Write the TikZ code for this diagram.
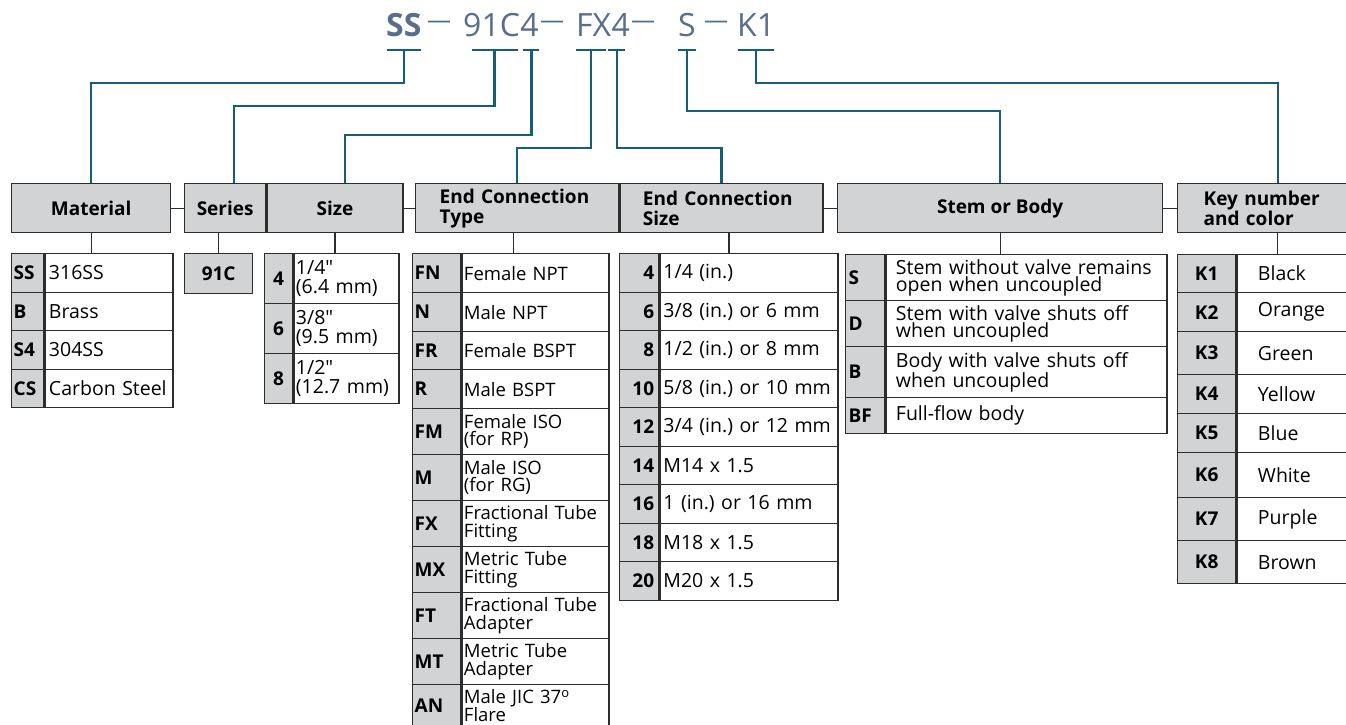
\documentclass[tikz,border=0pt]{standalone}
\usepackage{fontspec}
\setmainfont{Open Sans}[Ligatures=TeXOff]
\usetikzlibrary{positioning}
\definecolor{boxgray}{RGB}{209,211,212}
\definecolor{rulecol}{RGB}{45,45,45}
\definecolor{leadcol}{RGB}{22,94,120}
\definecolor{titlecol}{RGB}{88,110,140}
\newcommand\bodyfont{\fontsize{19.5}{18.5}\selectfont}
\newcommand\codefont{\fontsize{19}{19}\selectfont\bfseries}
\newcommand\hdrfont{\fontsize{19}{20}\selectfont\bfseries}
\newcommand\titlefont{\fontsize{32}{32}\selectfont}
\frenchspacing

\begin{document}
\begin{tikzpicture}[x=1pt, y=-1pt,
  hdr/.style={draw=rulecol, line width=1.3, fill=boxgray, font=\hdrfont,
              minimum height=49, inner sep=0pt, anchor=north west},
  codecell/.style={draw=rulecol, line width=1.3, fill=boxgray, font=\codefont,
                   inner ysep=0pt, anchor=north west},
  desccell/.style={draw=rulecol, line width=1.3, fill=white, font=\bodyfont,
                   inner ysep=0pt, align=left, anchor=north west},
  title/.style={anchor=base west, inner sep=0pt, text=titlecol, font=\titlefont},
  sepdash/.style={inner sep=0pt, text=titlecol, font=\fontsize{24}{24}\selectfont},
  lead/.style={leadcol, line width=2.2},
  stemline/.style={rulecol, line width=1.3},
]
\useasboundingbox (0,0) rectangle (1346,725);
\clip (0,0) rectangle (1346,725);

% ordering code
\node[title, font=\titlefont\bfseries] (t-ss) at (386,37) {SS};
\node[sepdash] (d1) at (439,25) {—};
\node[title] (t-91c) at (463,37) {91C};
\node[title] (t-4a) at (t-91c.base east) {4};
\node[sepdash] (d2) at (552,25) {—};
\node[title] (t-fx) at (576,37) {FX};
\node[title] (t-4b) at (t-fx.base east) {4};
\node[sepdash] (d3) at (643,25) {—};
\node[title] (t-s) at (678,37) {S};
\node[sepdash] (d4) at (716,25) {—};
\node[title] (t-k1) at (737,37) {K1};

% headers
\node[hdr, minimum width=159, align=center] (h-mat) at (11,183) {Material};
\node[hdr, minimum width=81, align=center] (h-ser) at (184,183) {Series};
\node[hdr, minimum width=136, align=center] (h-size) at (h-ser.north east) {Size};
\node[hdr, text width=155, inner xsep=24, align=left] (h-ect) at (415,183) {End Connection\\Type};
\node[hdr, text width=157, inner xsep=23, align=left] (h-ecs) at (h-ect.north east) {End Connection\\Size};
\node[hdr, minimum width=325, align=center] (h-stem) at (837,183) {Stem or Body};
\node[hdr, text width=148, inner xsep=26, align=left] (h-key) at (1177,183) {Key number\\and color};

\draw[stemline] (h-mat.east) -- (h-ser.west);
\draw[stemline] (h-size.east) -- (h-ect.west);
\draw[stemline] (h-ecs.east) -- (h-stem.west);
\draw[stemline] (h-stem.east) -- (h-key.west);

% material
\foreach \c/\d [count=\i from 0] in {SS/316SS, B/Brass, S4/304SS, CS/Carbon Steel}{
  \node[codecell, text width=28, inner xsep=2, align=left, minimum height=38.5] (mat-c\i) at (11,253+38.5*\i) {\c};
  \node[desccell, text width=120, inner xsep=4, minimum height=38.5] (mat-d\i) at (mat-c\i.north east) {\d};
}
% series
\node[codecell, minimum width=68, minimum height=40, align=center] (ser) at (184,253) {91C};
% size
\foreach \c/\d [count=\i from 0] in {4/{1/4"\\(6.4 mm)}, 6/{3/8"\\(9.5 mm)}, 8/{1/2"\\(12.7 mm)}}{
  \node[codecell, text width=28, inner xsep=0, align=center, minimum height=50] (siz-c\i) at (264,253+50*\i) {\c};
  \node[desccell, text width=101, inner xsep=2, minimum height=50] (siz-d\i) at (siz-c\i.north east) {\d};
}
% end connection type
\foreach \y/\h/\c/\d [count=\i from 0] in {253/39/FN/Female NPT, 292/39/N/Male NPT,
    331/38/FR/Female BSPT, 369/39/R/Male BSPT, 408/46/FM/{Female ISO\\(for RP)},
    454/46/M/{Male ISO\\(for RG)}, 500/46/FX/{Fractional Tube\\Fitting},
    546/46/MX/{Metric Tube\\Fitting}, 592/46/FT/{Fractional Tube\\Adapter},
    638/46/MT/{Metric Tube\\Adapter}, 684/42/AN/{Male JIC 37\textsuperscript{o}\\Flare}}{
  \node[codecell, text width=44, inner xsep=2, align=left, minimum height=\h] (ect-c\i) at (412,\y) {\c};
  \node[desccell, font=\fontsize{18.5}{17.5}\selectfont, text width=143, inner xsep=2, minimum height=\h] (ect-d\i) at (ect-c\i.north east) {\d};
}
% end connection size
\foreach \c/\d [count=\i from 0] in {4/{1/4 (in.)}, 6/{3/8 (in.) or 6 mm}, 8/{1/2 (in.) or 8 mm},
    10/{5/8 (in.) or 10 mm}, 12/{3/4 (in.) or 12 mm}, 14/M14 x 1.5, 16/1 (in.) or 16 mm,
    18/M18 x 1.5, 20/M20 x 1.5}{
  \node[codecell, text width=30, inner xsep=4.5, align=right, minimum height=38.5] (ecs-c\i) at (619,253+38.5*\i) {\c};
  \node[desccell, text width=171, inner xsep=3.5, minimum height=38.5] (ecs-d\i) at (ecs-c\i.north east) {\d};
}
% stem or body
\foreach \y/\h/\c/\d [count=\i from 0] in {254/46/S/{Stem without valve remains\\open when uncoupled},
    300/46/D/{Stem with valve shuts off\\when uncoupled}, 346/51/B/{Body with valve shuts off\\when uncoupled},
    397/36/BF/Full-flow body}{
  \node[codecell, text width=33, inner xsep=3, align=left, minimum height=\h] (stb-c\i) at (845,\y) {\c};
  \node[desccell, font=\fontsize{19.5}{17}\selectfont, text width=261, inner xsep=10, minimum height=\h] (stb-d\i) at (stb-c\i.north east) {\d};
}
% key number and color
\foreach \y/\h/\c/\d [count=\i from 0] in {254/38/K1/Black, 292/39/K2/Orange, 331/43/K3/Green,
    374/39/K4/Yellow, 413/39/K5/Blue, 452/45/K6/White, 497/43/K7/Purple, 540/43/K8/Brown}{
  \node[codecell, minimum width=58, align=center, minimum height=\h] (key-c\i) at (1177,\y) {\c};
  \node[desccell, text width=74, inner xsep=21, minimum height=\h] (key-d\i) at (key-c\i.north east) {\d};
}

% header to table
\draw[stemline] (h-mat.south) -- (h-mat.south |- mat-c0.north);
\draw[stemline] (h-ser.south -| ser.north) -- (ser.north);
\draw[stemline] (h-size.south) -- (h-size.south |- siz-c0.north);
\draw[stemline] ([xshift=-3.5]h-ect.south) -- ++(0,21);
\draw[stemline] ([xshift=7.5]h-ecs.south) -- ++(0,21);
\draw[stemline] (h-stem.south) -- ++(0,22);
\draw[stemline] (h-key.south) -- (h-key.south |- key-c0.north);

% code to header leads
\draw[lead] ([xshift=1,yshift=-13]t-ss.base west) -- ([xshift=-1,yshift=-13]t-ss.base east);
\draw[lead] ([yshift=-13]t-ss.base) -- ++(0,33) -| (h-mat.north);
\draw[lead] ([xshift=9,yshift=-13]t-91c.base west) -- ([xshift=-2,yshift=-13]t-91c.base east);
\draw[lead] ([xshift=3,yshift=-13]t-91c.base) -- ++(0,56) -| ([xshift=9]h-ser.north);
\draw[lead] ([xshift=3,yshift=-13]t-4a.base west) -- ([yshift=-13]t-4a.base east);
\draw[lead] ([xshift=2,yshift=-13]t-4a.base) -- ++(0,85) -| ([xshift=10]h-size.north);
\draw[lead] ([yshift=-13]t-fx.base west) -- ([xshift=-5,yshift=-13]t-fx.base east);
\draw[lead] ([xshift=-3,yshift=-13]t-fx.base) -- ++(0,98) -| (h-ect.north);
\draw[lead] ([xshift=-3,yshift=-13]t-4b.base west) -- ([xshift=-5,yshift=-13]t-4b.base east);
\draw[lead] ([xshift=-4,yshift=-13]t-4b.base) -- ++(0,98) -| (h-ecs.north);
\draw[lead] ([yshift=-13]t-s.base west) -- ([yshift=-13]t-s.base east);
\draw[lead] ([yshift=-13]t-s.base) -- ++(0,61) -| (h-stem.north);
\draw[lead] ([xshift=1,yshift=-13]t-k1.base west) -- ([xshift=-1,yshift=-13]t-k1.base east);
\draw[lead] ([yshift=-13]t-k1.base) -- ++(0,33) -| (h-key.north);
\end{tikzpicture}
\end{document}
